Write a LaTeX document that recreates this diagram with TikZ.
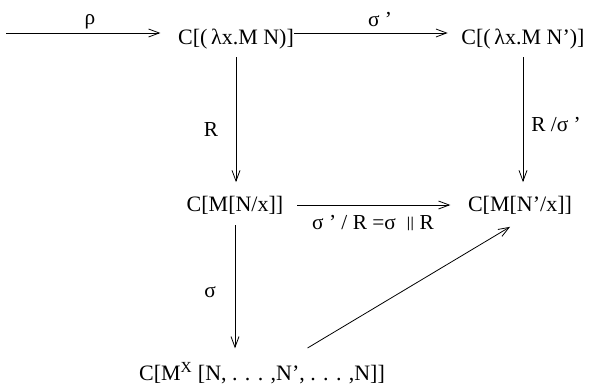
\documentclass[tikz,border=0pt]{standalone}
\usepackage{fontspec}
\setmainfont{Liberation Serif}
\usepackage{tikz}
\usetikzlibrary{arrows.meta}

\begin{document}
\begin{tikzpicture}[x=.75pt,y=-.75pt,line width=.6pt,
    arr/.style={-{Straight Barb[length=8pt,width=6pt]}},
    term/.style={inner sep=0pt,font=\fontsize{16.5pt}{19pt}\selectfont},
    lbl/.style={inner sep=0pt,font=\fontsize{16pt}{19pt}\selectfont}]
  \useasboundingbox (0,0) rectangle (590,386);

  \node[term] (redex) at (236,39) {C[(\,λx.M N)]};
  \node[term] (redexp) at (523,39) {C[(\,λx.M N’)]};
  \node[term] (subst) at (235,205) {C[M[N/x]]};
  \node[term] (substp) at (520,205) {C[M[N’/x]]};
  \node[term] (multi) at (262,373) {C[M\textsuperscript{X} [N, . . . ,N’, . . . ,N]]};
  \coordinate (start) at (6,33);

  \draw[arr,shorten >=13pt] (start) -- (start -| redex.west);
  \draw[arr,shorten >=10pt] (redex.east |- start) -- (redexp.west |- start);
  \draw[arr,shorten <=6pt,shorten >=10pt] (redex.south) -- (redex.south |- subst.north);
  \draw[arr,shorten <=6pt,shorten >=10pt] (redexp.south) -- (redexp.south |- substp.north);
  \draw[arr,shorten <=10pt,shorten >=13pt] (subst.east) -- (substp.west);
  \draw[arr,shorten <=8pt,shorten >=10pt] (subst.south) -- (subst.south |- multi.north);
  \draw[arr,shorten <=20pt,shorten >=18pt] ([xshift=17pt]multi.north) -- ([xshift=8pt]substp.south);

  \node[lbl] (rho) at (90,22) {ρ};
  \node[lbl] (sigmap) at (380,20) {σ ’};
  \node[lbl] (red) at (211,130) {R};
  \node[lbl] (redsig) at (556,125) {R /σ ’};
  \node[lbl] (sigma) at (210,292) {σ};
  \node[lbl] (parallel) at (373,223) {σ ’ / R =σ \ \raisebox{.15ex}{\scalebox{.9}[.7]{||}} R};
\end{tikzpicture}
\end{document}
